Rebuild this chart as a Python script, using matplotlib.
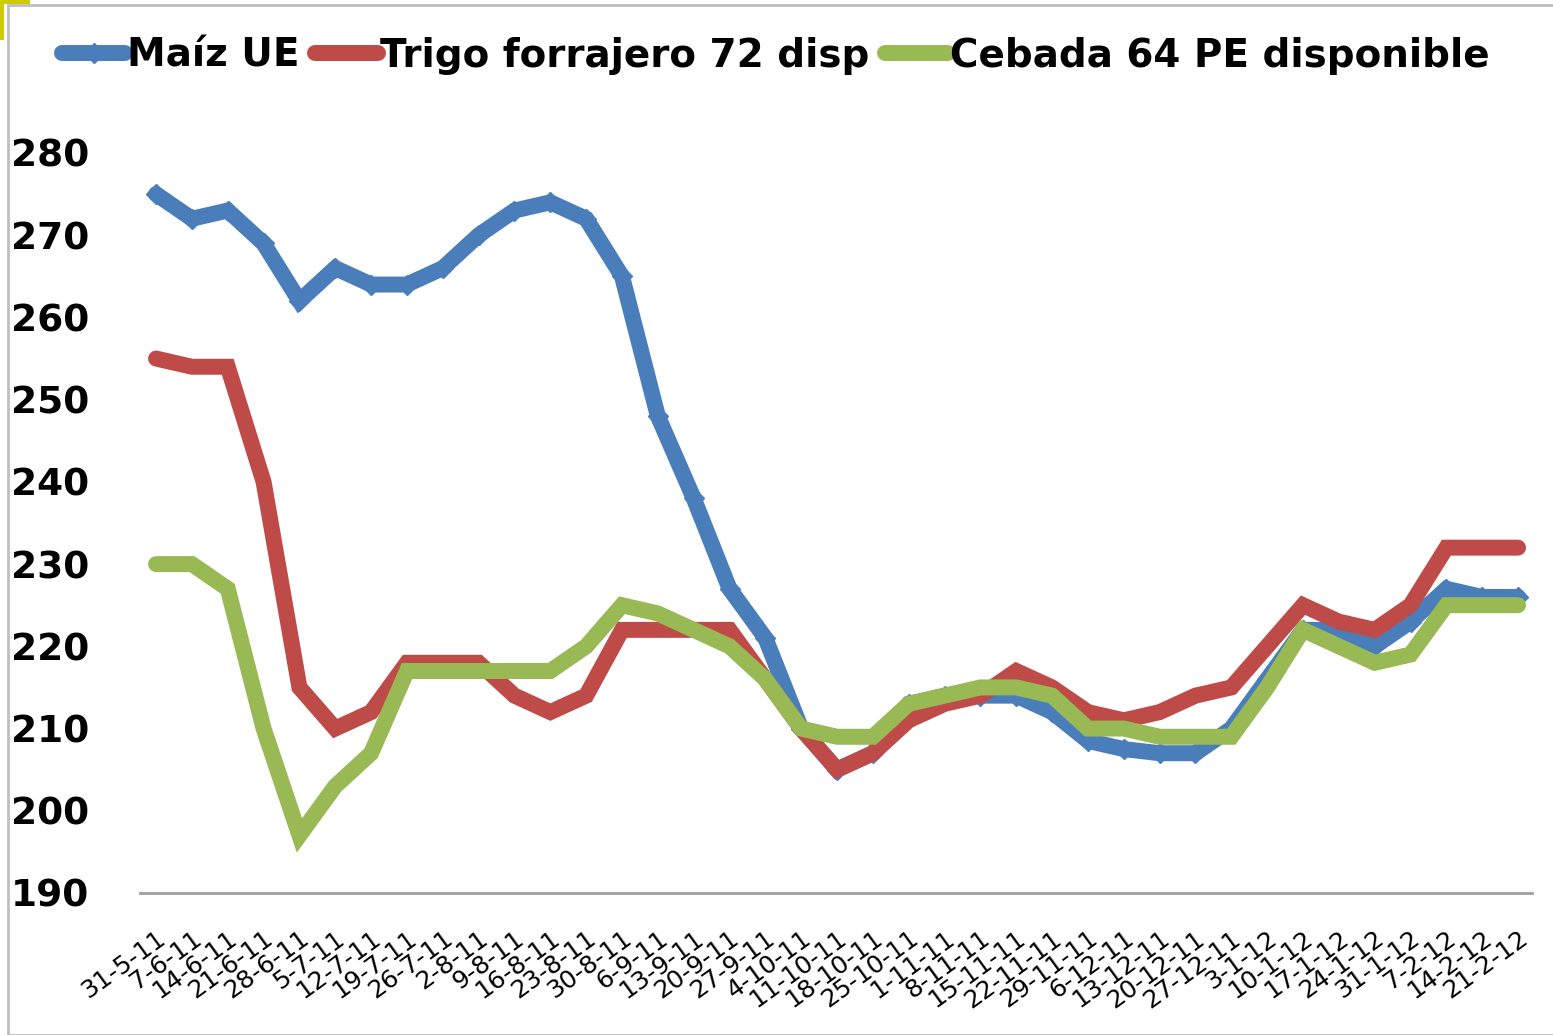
import matplotlib.pyplot as plt
from matplotlib.patches import Rectangle

# weekly dates
fechas = ["31-5-11", "7-6-11", "14-6-11", "21-6-11", "28-6-11", "5-7-11", "12-7-11",
          "19-7-11", "26-7-11", "2-8-11", "9-8-11", "16-8-11", "23-8-11", "30-8-11",
          "6-9-11", "13-9-11", "20-9-11", "27-9-11", "4-10-11", "11-10-11", "18-10-11",
          "25-10-11", "1-11-11", "8-11-11", "15-11-11", "22-11-11", "29-11-11", "6-12-11",
          "13-12-11", "20-12-11", "27-12-11", "3-1-12", "10-1-12", "17-1-12", "24-1-12",
          "31-1-12", "7-2-12", "14-2-12", "21-2-12"]

maiz = [275, 272, 273, 269, 262, 266, 264, 264, 266, 270, 273, 274, 272, 265,
        248, 238, 227, 221, 210, 205, 207, 213, 214, 214, 214, 212, 208.5, 207.5,
        207, 207, 210, 216, 222, 222, 220, 223, 227, 226, 226]
trigo = [255, 254, 254, 240, 215, 210, 212, 218, 218, 218, 214, 212, 214, 222,
         222, 222, 222, 216, 210, 205, 207, 211, 213, 214, 217, 215, 212, 211,
         212, 214, 215, 220, 225, 223, 222, 225, 232, 232, 232]
cebada = [230, 230, 227, 210, 197, 203, 207, 217, 217, 217, 217, 217, 220, 225,
          224, 222, 220, 216, 210, 209, 209, 213, 214, 215, 215, 214, 210, 210,
          209, 209, 209, 215, 222, 220, 218, 219, 225, 225, 225]

series = [("Maíz UE", maiz, "#4A7EBB"),
          ("Trigo forrajero 72 disp", trigo, "#BE4B48"),
          ("Cebada 64 PE disponible", cebada, "#98B954")]

plt.rcParams['font.family'] = ['DejaVu Sans']

fig = plt.figure(figsize=(15.53, 10.35), dpi=100)
ax = fig.add_axes([0.0901, 0.1372, 0.8964, 0.715])

x = list(range(len(fechas)))
for name, vals, col in series:
    mk = "D" if name == "Maíz UE" else None
    ax.plot(x, vals, color=col, lw=11.5, solid_capstyle="round", solid_joinstyle="miter",
            marker=mk, ms=10, label=name, clip_on=False)

ax.set_xlim(-0.45, len(fechas) - 1 + 0.39)
ax.set_ylim(190, 280)
ax.set_yticks(range(190, 281, 10))
ax.tick_params(axis="y", length=0, labelsize=27)
for t in ax.get_yticklabels():
    t.set_fontweight("bold")
    t.set_horizontalalignment("left")
ax.yaxis.set_tick_params(pad=93)

ax.set_xticks(x)
ax.set_xticklabels(fechas, rotation=36, ha="right", rotation_mode="anchor", fontsize=18)
ax.tick_params(axis="x", length=0, pad=24)

for s in ["top", "right", "left"]:
    ax.spines[s].set_visible(False)
ax.spines["bottom"].set_color("#A0A0A0")
ax.spines["bottom"].set_linewidth(2)

leg = fig.legend(loc="center", bbox_to_anchor=(0.4997, 0.946), ncol=3, frameon=False,
                 prop={"size": 28, "weight": "bold"}, handlelength=1.62,
                 handletextpad=0.05, columnspacing=0.4)

# outer chart border and corner mark
fig.patches.append(Rectangle((8 / 1553, 0), 1.0, 1 - 5 / 1035, transform=fig.transFigure,
                             fill=False, edgecolor="#BFBFBF", lw=2))
fig.patches.append(Rectangle((0, 1 - 40 / 1035), 4 / 1553, 40 / 1035, transform=fig.transFigure,
                             color="#CCCC00", lw=0))
fig.patches.append(Rectangle((0, 1 - 4 / 1035), 30 / 1553, 4 / 1035, transform=fig.transFigure,
                             color="#CCCC00", lw=0))

fig.savefig("out.png", dpi=100)
